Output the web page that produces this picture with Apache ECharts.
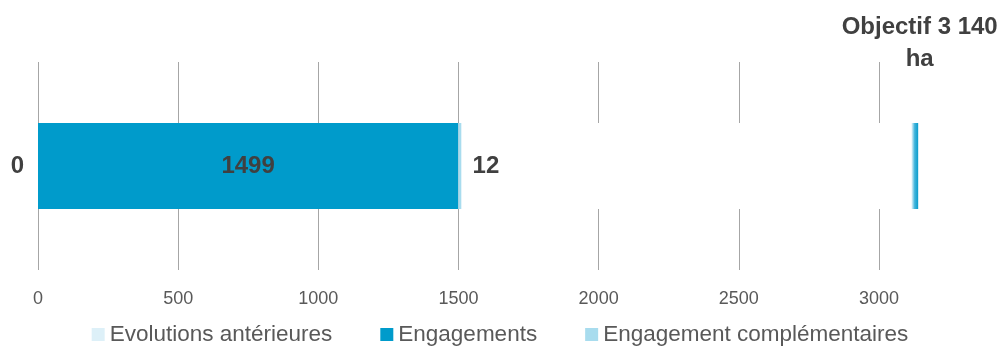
<!DOCTYPE html>
<html>
<head>
<meta charset="utf-8">
<script src="https://cdn.jsdelivr.net/npm/echarts@6/dist/echarts.min.js"></script>
<style>
  html, body { margin: 0; padding: 0; background: #ffffff; }
  #chart { width: 1000px; height: 347px; }
</style>
</head>
<body>
<div id="chart"></div>
<script>
// Surfaces (ha) stacked along one bar
const categories = ['Surfaces'];
const evolutionsAnterieures = [0];
const engagements = [1499];
const engagementsComplementaires = [12];
const objectif = 3140;
const objectifLabel = 'Objectif 3 140\nha';
const xTicks = [0, 500, 1000, 1500, 2000, 2500, 3000];

// the objective marker is a thin band ending at the target value
const markerSpan = 25;
const filled = evolutionsAnterieures[0] + engagements[0] + engagementsComplementaires[0];
const reste = [objectif - markerSpan - filled];
const marker = [markerSpan];

const FONT = "'Liberation Sans Narrow', sans-serif";

const chart = echarts.init(document.getElementById('chart'), null, { renderer: 'canvas' });

chart.setOption({
  animation: false,
  textStyle: { fontFamily: FONT },
  grid: { left: 38, right: 65, top: 62, bottom: 77, containLabel: false },
  legend: {
    data: ['Evolutions antérieures', 'Engagements', 'Engagement complémentaires'],
    top: 318,
    left: 'center',
    icon: 'rect',
    itemWidth: 13,
    itemHeight: 13,
    itemGap: 48,
    textStyle: { fontSize: 22.5, color: '#595959', fontFamily: FONT }
  },
  xAxis: {
    type: 'value',
    min: 0,
    max: 3200,
    interval: 500,
    axisLine: { show: false },
    axisTick: { show: false },
    axisLabel: {
      color: '#595959',
      fontSize: 18,
      margin: 20,
      showMaxLabel: false,
      formatter: v => (xTicks.indexOf(v) >= 0 ? String(v) : '')
    },
    splitLine: { show: true, showMaxLine: false, lineStyle: { color: '#A6A6A6', width: 1 } }
  },
  yAxis: {
    type: 'category',
    data: categories,
    axisLine: { show: false },
    axisTick: { show: false },
    axisLabel: { show: false }
  },
  series: [
    {
      name: 'Evolutions antérieures',
      type: 'bar',
      stack: 'total',
      barWidth: 86,
      data: evolutionsAnterieures,
      itemStyle: { color: '#DDF0F8' },
      label: {
        show: true, position: 'left', distance: 14,
        fontSize: 24, fontWeight: 'bold', color: '#404040', fontFamily: FONT
      }
    },
    {
      name: 'Engagements',
      type: 'bar',
      stack: 'total',
      data: engagements,
      itemStyle: { color: '#009BCB' },
      label: {
        show: true, position: 'inside',
        fontSize: 24, fontWeight: 'bold', color: '#404040', fontFamily: FONT
      }
    },
    {
      name: 'Engagement complémentaires',
      type: 'bar',
      stack: 'total',
      data: engagementsComplementaires,
      itemStyle: { color: '#A8DCEE' },
      label: {
        show: true, position: 'right', distance: 11,
        fontSize: 24, fontWeight: 'bold', color: '#404040', fontFamily: FONT
      }
    },
    {
      name: 'Reste',
      type: 'bar',
      stack: 'total',
      data: reste,
      itemStyle: { color: '#FFFFFF' },
      silent: true
    },
    {
      name: 'Objectif',
      type: 'bar',
      stack: 'total',
      data: marker,
      itemStyle: {
        color: new echarts.graphic.LinearGradient(0, 0, 1, 0, [
          { offset: 0, color: '#FFFFFF' },
          { offset: 0.5, color: '#40B4DC' },
          { offset: 1, color: '#0A9CCB' }
        ])
      },
      label: {
        show: true, position: 'top', distance: 48, offset: [5, 0],
        formatter: objectifLabel,
        fontSize: 24, fontWeight: 'bold', color: '#404040',
        lineHeight: 32, align: 'center', fontFamily: FONT
      }
    }
  ]
});
</script>
</body>
</html>
